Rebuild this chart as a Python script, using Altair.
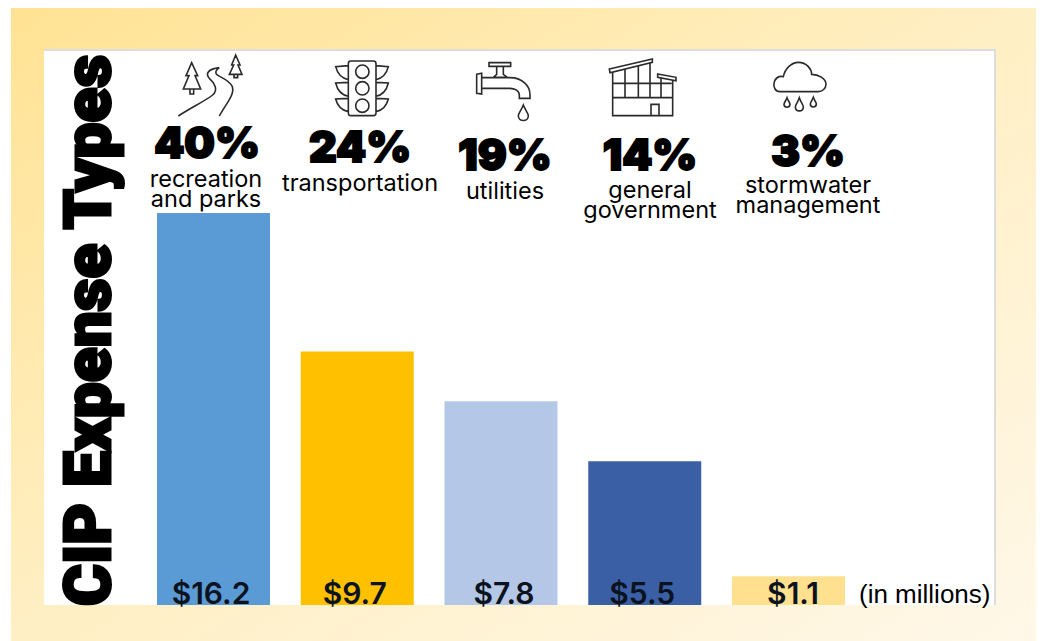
import altair as alt
import pandas as pd

categories = ["recreation and parks", "transportation", "utilities", "general government", "stormwater management"]
amounts = [16.2, 9.7, 7.8, 5.5, 1.1]
shares = ["40%", "24%", "19%", "14%", "3%"]
label_lines = [["recreation", "and parks"], ["transportation"], ["utilities"], ["general", "government"], ["stormwater", "management"]]
bar_colors = ["#5B9BD5", "#FFC000", "#B4C7E7", "#3A5FA5", "#FFE08F"]
title_text = "CIP Expense Types"
unit_text = "(in millions)"

OX, OY = 8, 8
HEAVY = "Inter"
TITLE = "Roboto"
BODY = "Inter"


def circle(cx, cy, r):
    k = 0.5523 * r
    return (f"M{cx-r},{cy} C{cx-r},{cy-k} {cx-k},{cy-r} {cx},{cy-r} C{cx+k},{cy-r} {cx+r},{cy-k} {cx+r},{cy} "
            f"C{cx+r},{cy+k} {cx+k},{cy+r} {cx},{cy+r} C{cx-k},{cy+r} {cx-r},{cy+k} {cx-r},{cy} Z ")


def drop(cx, cy, r, h):
    return (f"M{cx},{cy-h} C{cx+r*0.4},{cy-h*0.5} {cx+r},{cy-r*0.5} {cx+r},{cy} C{cx+r},{cy+r*1.3} {cx-r},{cy+r*1.3} {cx-r},{cy} "
            f"C{cx-r},{cy-r*0.5} {cx-r*0.4},{cy-h*0.5} {cx},{cy-h} Z ")


icon_road = ("M155,53 L138,92 L147,92 L130,132 L182,132 L165,92 L173,92 Z M150,132 L150,147 L161,147 L161,132 "
             "M287,30 L275,60 L281,60 L268,88 L306,88 L294,60 L300,60 Z M282,88 L282,98 L293,98 L293,88 "
             "M115,213 C150,190 200,165 218,150 C235,135 225,115 208,100 C195,85 205,72 238,68 "
             "M238,213 C255,180 285,150 277,125 C265,100 230,95 228,85 C226,78 232,72 238,68")
icon_light = ("M632,48 L700,48 Q708,48 708,56 L708,204 Q708,212 700,212 L632,212 Q625,212 625,204 L625,56 Q625,48 632,48 Z "
              + circle(667, 80, 20) + circle(667, 130, 20) + circle(667, 182, 20)
              + "M625,62 L587,65 C592,85 605,100 625,104 M625,112 L587,114 C592,135 605,150 625,154 "
                "M625,160 L587,162 C592,182 605,196 625,200 "
                "M708,62 L745,65 C740,85 727,100 708,104 M708,112 L745,114 C740,135 727,150 708,154 "
                "M708,160 L745,162 C740,182 727,196 708,200")
icon_tap = ("M50,88 L65,85 L65,147 L50,145 Z M65,98 L150,98 C185,98 210,120 210,150 L210,160 L178,160 L178,150 "
            "C178,138 165,130 150,130 L65,130 "
            "M87,53 L152,53 L152,64 L87,64 Z M110,64 L110,88 L100,97 L142,97 L130,88 L130,64 "
            + drop(190, 212, 15, 32))
icon_building = ("M448,72 L577,42 L577,52 L450,83 Z M593,87 L648,97 L648,107 L593,97 Z "
                 "M458,80 L458,212 L638,212 L638,107 M458,115 L635,115 M458,158 L638,158 "
                 "M495,73 L495,158 M535,63 L535,158 M570,55 L570,158 M603,98 L603,158 "
                 "M573,212 L573,178 L597,178 L597,212")
icon_cloud = ("M960,140 C945,140 940,125 942,115 C945,100 955,92 970,95 C975,70 995,52 1015,52 C1040,52 1055,72 1055,88 "
              "C1075,88 1098,100 1098,118 C1098,132 1085,140 1075,140 Z "
              + drop(981, 178, 9, 20) + drop(1018, 186, 12, 28) + drop(1060, 177, 9, 20))

one = pd.DataFrame({"k": [0]})


def place(text, x, y, size, font, weight="normal", align="center", stroke=None, sw=0, angle=0, color="#000000"):
    kw = dict(text=text, font=font, fontSize=size, fontWeight=weight, align=align, baseline="alphabetic",
              color=color, fill=color, angle=angle)
    if stroke:
        kw.update(stroke=stroke, strokeWidth=sw)
    return alt.Chart(one).mark_text(**kw).encode(x=alt.value(x - OX), y=alt.value(y - OY))


def icon(path, ox, oy):
    return alt.Chart(one).mark_point(shape=path, size=4 / 9, filled=False, stroke="#2a2a2a", strokeWidth=1.6,
                                     opacity=1).encode(x=alt.value(ox - OX), y=alt.value(oy - OY))


def box(x, x2, y, y2, **kw):
    return alt.Chart(one).mark_rect(**kw).encode(x=alt.value(x - OX), x2=alt.value(x2 - OX),
                                                 y=alt.value(y - OY), y2=alt.value(y2 - OY))


df = pd.DataFrame({"cat": categories, "amount": amounts, "color": bar_colors,
                   "label": [f"${a}" for a in amounts]})

xscale = alt.Scale(domain=categories, range=[157 - OX, 845 - OX], paddingInner=0.214, paddingOuter=0)
yscale = alt.Scale(domain=[0, 15], range=[605 - OY, 213 - OY], clamp=True)

layers = []
bg = alt.LinearGradient(gradient="linear", x1=0, y1=0, x2=1, y2=1,
                        stops=[alt.GradientStop(offset=0, color="#FFE293"),
                               alt.GradientStop(offset=0.5, color="#FFEFC4"),
                               alt.GradientStop(offset=1, color="#FFF8E9")])
layers.append(box(11, 1039, 5, 641, fill=bg))
layers.append(box(44, 996, 49, 605, fill="#DDDDDD"))
layers.append(box(44, 994, 51, 605, fill="#FFFFFF"))

bars = alt.Chart(df).mark_bar().encode(
    x=alt.X("cat:N", scale=xscale, axis=None, sort=categories),
    y=alt.Y("amount:Q", scale=yscale, axis=None),
    color=alt.Color("color:N", scale=None, legend=None),
)
layers.append(bars)

nudges = [-2.5, -2.5, 3, -2.5, 4.5]
for cat, n in zip(categories, nudges):
    layers.append(alt.Chart(df).transform_filter(alt.datum.cat == cat).mark_text(
        font=BODY, fontSize=30, fontWeight=600, baseline="alphabetic", dx=n, color="#0b1220", fill="#0b1220").encode(
        x=alt.X("cat:N", scale=xscale, axis=None, sort=categories),
        y=alt.value(604 - OY),
        text="label:N"))

share_pos = [(207, 158), (360, 162), (505, 170), (650, 170), (808, 166)]
for s, (x, y) in zip(shares, share_pos):
    layers.append(place(s, x, y, 43, HEAVY, weight=900, stroke="#000000", sw=2))

line_pos = [[(206, 187), (206, 207)], [(360, 191)], [(505, 199)], [(650, 198), (650, 218)], [(808, 193), (808, 213)]]
for lines, poss in zip(label_lines, line_pos):
    for t, (x, y) in zip(lines, poss):
        layers.append(place(t, x, y, 23.5, BODY))

layers.append(place(unit_text, 859, 603, 26, "Liberation Sans", align="left"))
layers.append(place(title_text, 110, 606, 64, TITLE, weight=900, align="left", angle=270, stroke="#000000", sw=3))

layers.append(icon(icon_road, 140, 45))
layers.append(icon(icon_light, 140, 45))
for p in (icon_tap, icon_building, icon_cloud):
    layers.append(icon(p, 460, 45))

chart = alt.layer(*layers).properties(
    width=1028, height=633, padding=0, background="#FFFFFF",
    autosize=alt.AutoSizeParams(type="none"),
).configure_view(strokeWidth=0)

chart.save("out.html", embed_options={"renderer": "svg", "actions": False})
